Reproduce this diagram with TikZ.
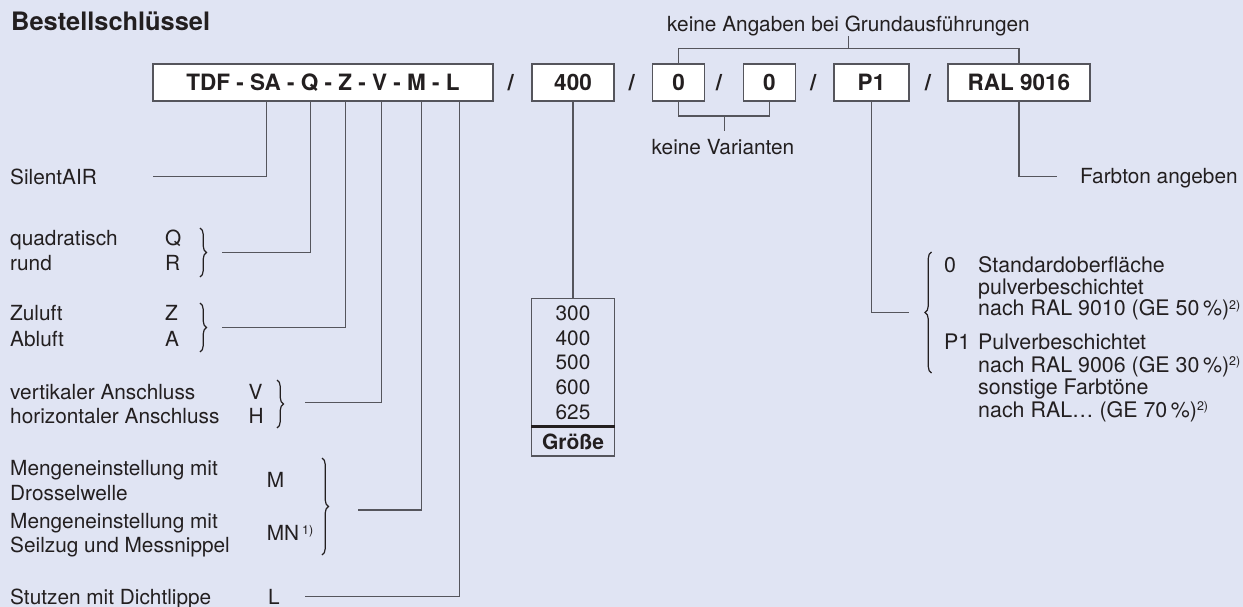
\documentclass[tikz,border=0pt]{standalone}
\usepackage{fontspec}
\setmainfont{TeX Gyre Heros}
\usetikzlibrary{decorations.pathreplacing,calc}
\definecolor{bg}{RGB}{224,228,243}
\definecolor{ln}{RGB}{85,85,92}
\definecolor{tx}{RGB}{35,31,32}
\newcommand\myfn{\fontsize{20.8}{22}\selectfont}
\newcommand\myfr{\fontsize{21.4}{23}\selectfont}
\newcommand\myfb{\fontsize{22.5}{24}\selectfont\bfseries}
\newcommand\myft{\fontsize{25.4}{28}\selectfont\bfseries}
\newcommand\mysup[1]{\raisebox{6.5pt}{\fontsize{12.5}{13}\selectfont #1}}
\begin{document}
\begin{tikzpicture}[x=1pt,y=-1pt,
  lbl/.style={anchor=west, inner sep=0pt, text height=15pt, text depth=0pt, font=\myfn, text=tx},
  rlbl/.style={anchor=west, inner sep=0pt, text height=15.4pt, text depth=0pt, font=\myfr, text=tx},
  num/.style={anchor=center, inner sep=0pt, text height=15pt, text depth=0pt, font=\myfn, text=tx},
  cbox/.style={draw=ln, fill=white, line width=1.2pt, minimum height=37pt, inner sep=0pt, text height=16.2pt, text depth=0pt, font=\myfb, text=tx},
  slash/.style={anchor=center, inner sep=0pt, text height=16.2pt, text depth=0pt, font=\myfb, text=tx},
  conn/.style={draw=ln, line width=1.3pt},
  brc/.style={draw=tx, line width=1.2pt, decorate, decoration={brace, amplitude=6.5pt}},
]
\fill[bg] (0,0) rectangle (1243,607);
\useasboundingbox (0,0) rectangle (1243,607);

% title
\node[anchor=base west, inner sep=0pt, font=\myft, text=tx] (title) at (11,30.7) {Bestellschlüssel};

% code boxes
\node[cbox, minimum width=340pt] (code) at (323,82.5) {TDF - SA - Q - Z - V - M - L};
\node[cbox, minimum width=82pt] (size) at (573,82.5) {400};
\node[cbox, minimum width=52pt] (v1) at (678.5,82.5) {0};
\node[cbox, minimum width=52pt] (v2) at (769.3,82.5) {0};
\node[cbox, minimum width=75pt] (surf) at (871.5,82.5) {P1};
\node[cbox, minimum width=142pt] (ral) at (1018.9,82.5) {RAL 9016};
\node[slash] (s1) at (510.7,82.5) {/};
\node[slash] (s2) at (631.7,82.5) {/};
\node[slash] (s3) at (718.9,82.5) {/};
\node[slash] (s4) at (813.2,82.5) {/};
\node[slash] (s5) at (928,82.5) {/};

% top annotation
\node[anchor=base, inner sep=0pt, font=\myfn, text=tx] (kA) at (848.5,31.5) {keine Angaben bei Grundausführungen};
\coordinate (topbar) at (848.8,48.3);
\draw[conn] (v1.north) |- (ral.north |- topbar) -- (ral.north);
\draw[conn] (kA.south -| topbar) -- (topbar);

% keine Varianten
\coordinate (botbar) at (724.3,116);
\coordinate (kVtop) at (724.3,131);
\node[anchor=base, inner sep=0pt, font=\myfn, text=tx] (kV) at (723,155) {keine Varianten};
\draw[conn] (v1.south) |- (v2.south |- botbar) -- (v2.south);
\draw[conn] (botbar) -- (kVtop);

% Farbton
\coordinate (fA) at (1056.7,176.7);
\node[lbl] (farb) at (1080,176.5) {Farbton angeben};
\draw[conn] (ral.south) |- (fA);

% surface
\coordinate (pE) at (909,312.3);
\draw[conn] (surf.south) |- (pE);
\draw[brc, decoration={aspect=0.5}] (931.5,373) -- (931.5,252);
\node[rlbl] (o0) at (944,265) {0};
\node[rlbl] (o0a) at (978,265) {Standardoberfläche};
\node[rlbl] (o0b) at (978,286.5) {pulverbeschichtet};
\node[rlbl] (o0c) at (978,308) {nach RAL 9010 (GE 50\,\%)\mysup{2)}};
\node[rlbl] (o1) at (944,342) {P1};
\node[rlbl] (o1a) at (978,342) {Pulverbeschichtet};
\node[rlbl] (o1b) at (978,364.5) {nach RAL 9006 (GE 30\,\%)\mysup{2)}};
\node[rlbl] (o1c) at (978,387) {sonstige Farbtöne};
\node[rlbl] (o1d) at (978,409.5) {nach RAL… (GE 70\,\%)\mysup{2)}};

% size list
\node[draw=ln, line width=1.2pt, minimum width=82.6pt, minimum height=157.7pt, inner sep=0pt] (sizelist) at (573,377.15) {};
\draw[draw=tx, line width=2.4pt] ($(sizelist.south west)+(0,-30)$) -- ($(sizelist.south east)+(0,-30)$);
\draw[conn] (size.south) -- (sizelist.north);
\node[num] (n300) at (573,313.3) {300};
\node[num] (n400) at (573,338.3) {400};
\node[num] (n500) at (573,362) {500};
\node[num] (n600) at (573,386.7) {600};
\node[num] (n625) at (573,411.7) {625};
\node[num, font=\fontsize{21}{22}\selectfont\bfseries] (ngr) at (573,441.7) {Größe};

% left labels
\node[lbl] (lSA) at (10,177) {SilentAIR};
\node[lbl] (lq) at (10,238) {quadratisch};
\node[lbl] (lr) at (10,262.5) {rund};
\node[lbl] (kq) at (165,238) {Q};
\node[lbl] (kr) at (165,262.5) {R};
\node[lbl] (lz) at (10,313.3) {Zuluft};
\node[lbl] (la) at (10,338.5) {Abluft};
\node[lbl] (kz) at (165,313.3) {Z};
\node[lbl] (ka) at (165,338.5) {A};
\node[lbl] (lv) at (10,391.7) {vertikaler Anschluss};
\node[lbl] (lh) at (10,416) {horizontaler Anschluss};
\node[lbl] (kv) at (248.3,391.7) {V};
\node[lbl] (kh) at (248.3,416) {H};
\node[lbl] (lm1) at (10,468.3) {Mengeneinstellung mit};
\node[lbl] (lm2) at (10,493.3) {Drosselwelle};
\node[lbl] (lm3) at (10,520.7) {Mengeneinstellung mit};
\node[lbl] (lm4) at (10,545) {Seilzug und Messnippel};
\node[lbl] (km) at (266.7,480) {M};
\node[lbl] (kmn) at (266.7,533.3) {MN\hspace{3pt}\mysup{1)}};
\node[lbl] (ll) at (10,596.7) {Stutzen mit Dichtlippe};
\node[lbl] (kl) at (268,596.7) {L};

% braces
\draw[brc] (200,228) -- (200,277);
\draw[brc] (200,303) -- (200,352);
\draw[brc] (277,380) -- (277,428);
\draw[brc] (322,458) -- (322,555);

% connectors from code box
\coordinate (pSA) at (266.7,0);
\coordinate (pQ) at (310.3,0);
\coordinate (pZ) at (345.7,0);
\coordinate (pV) at (381.7,0);
\coordinate (pM) at (421.7,0);
\coordinate (pL) at (459.3,0);
\coordinate (eSA) at (153.3,176.7);
\coordinate (eQ) at (221.7,252.3);
\coordinate (eZ) at (221.7,327.7);
\coordinate (eV) at (305,402.7);
\coordinate (eM) at (357.7,510);
\coordinate (eL) at (305,596.7);
\draw[conn] (code.south -| pSA) |- (eSA);
\draw[conn] (code.south -| pQ) |- (eQ);
\draw[conn] (code.south -| pZ) |- (eZ);
\draw[conn] (code.south -| pV) |- (eV);
\draw[conn] (code.south -| pM) |- (eM);
\draw[conn] (code.south -| pL) |- (eL);
\end{tikzpicture}
\end{document}
